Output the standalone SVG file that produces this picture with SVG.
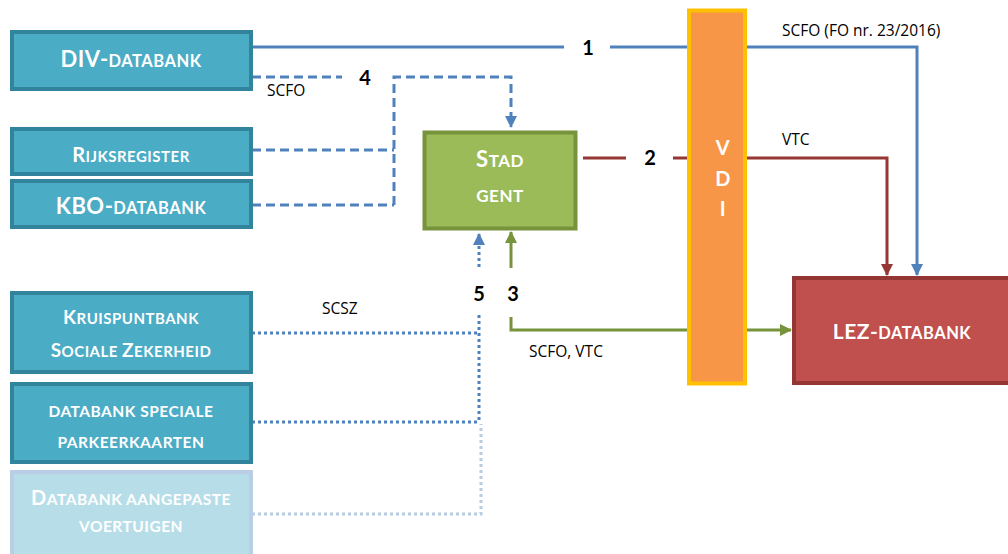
<svg xmlns="http://www.w3.org/2000/svg" width="1008" height="554" viewBox="0 0 1008 554">
<defs>
<style>
.src{fill:#4BACC6;stroke:#31849B;stroke-width:4}
.srcl{fill:#B7DEE8;stroke:#B9CDE5;stroke-width:4}
.bt{font-family:Lato,"Open Sans","Liberation Sans",sans-serif;font-weight:bold;fill:#FFFFFF;text-anchor:middle;letter-spacing:0.5px}
.lbl{font-family:"Open Sans","Liberation Sans",sans-serif;font-size:15.5px;fill:#000}
.num{font-family:Lato,"Liberation Sans",sans-serif;font-weight:bold;font-size:20px;fill:#000;text-anchor:middle}
.blue{stroke:#4F81BD;stroke-width:3;fill:none}
.dash{stroke-dasharray:9 5}
.dot{stroke-dasharray:3 3}
.lblue{stroke:#B8CCE4;stroke-width:3;fill:none;stroke-dasharray:3 3}
.red{stroke:#953735;stroke-width:3;fill:none}
.green{stroke:#77933C;stroke-width:3;fill:none}
</style>
<marker id="ab" viewBox="0 0 12 12" refX="11" refY="6" markerWidth="12" markerHeight="12" markerUnits="userSpaceOnUse" orient="auto"><path d="M0,0 L12,6 L0,12 z" fill="#4F81BD"/></marker>
<marker id="ar" viewBox="0 0 12 12" refX="11" refY="6" markerWidth="12" markerHeight="12" markerUnits="userSpaceOnUse" orient="auto"><path d="M0,0 L12,6 L0,12 z" fill="#953735"/></marker>
<marker id="ag" viewBox="0 0 12 12" refX="11" refY="6" markerWidth="12" markerHeight="12" markerUnits="userSpaceOnUse" orient="auto"><path d="M0,0 L12,6 L0,12 z" fill="#77933C"/></marker>
</defs>
<rect width="1008" height="554" fill="#FFFFFF"/>

<g id="connectors">
<path class="blue" d="M252,47 H564"/>
<path class="blue" d="M610,47 H917 V275" marker-end="url(#ab)"/>
<path class="blue dash" d="M252,77 H342"/>
<path class="blue dash" d="M394,205 V77 H511 V127" marker-end="url(#ab)"/>
<path class="blue dash" d="M252,150 H394"/>
<path class="blue dash" d="M252,205 H394"/>
<path class="red" d="M583,158 H626"/>
<path class="red" d="M673,158 H887 V275" marker-end="url(#ar)"/>
<path class="green" d="M511,268 V232" marker-end="url(#ag)"/>
<path class="green" d="M511,317 V330 H791" marker-end="url(#ag)"/>
<path class="blue dot" d="M479,267 V234" marker-end="url(#ab)"/>
<path class="blue dot" d="M252,333 H479 M479,315 V422 M252,422 H479"/>
<path class="lblue" d="M252,514 H481 V424"/>
</g>

<g id="labels">
<text class="num" x="588" y="55">1</text>
<text class="num" x="650" y="165">2</text>
<text class="num" x="513" y="301">3</text>
<text class="num" x="365" y="85">4</text>
<text class="num" x="479" y="301">5</text>
<text class="lbl" x="267" y="96">SCFO</text>
<text class="lbl" x="782" y="36">SCFO (FO nr. 23/2016)</text>
<text class="lbl" x="782" y="145">VTC</text>
<text class="lbl" x="322" y="314">SCSZ</text>
<text class="lbl" x="529" y="357">SCFO, VTC</text>
</g>

<g id="div">
<rect class="src" x="12" y="32" width="239" height="57"/>
<text class="bt" x="131" y="67"><tspan font-size="22">DIV-</tspan><tspan font-size="16.5">DATABANK</tspan></text>
</g>
<g id="rijksregister">
<rect class="src" x="12" y="129" width="239" height="45"/>
<text class="bt" x="131" y="162"><tspan font-size="20">R</tspan><tspan font-size="15">IJKSREGISTER</tspan></text>
</g>
<g id="kbo">
<rect class="src" x="12" y="181" width="239" height="46"/>
<text class="bt" x="131" y="214"><tspan font-size="22">KBO-</tspan><tspan font-size="16.5">DATABANK</tspan></text>
</g>
<g id="kruispuntbank">
<rect class="src" x="12" y="293" width="239" height="79"/>
<text class="bt" x="131" y="324"><tspan font-size="19">K</tspan><tspan font-size="15">RUISPUNTBANK</tspan></text>
<text class="bt" x="131" y="357"><tspan font-size="19">S</tspan><tspan font-size="15">OCIALE </tspan><tspan font-size="19">Z</tspan><tspan font-size="15">EKERHEID</tspan></text>
</g>
<g id="parkeerkaarten">
<rect class="src" x="12" y="384" width="239" height="78"/>
<text class="bt" x="131" y="417" font-size="15.5">DATABANK SPECIALE</text>
<text class="bt" x="131" y="448" font-size="15.5">PARKEERKAARTEN</text>
</g>
<g id="aangepaste">
<rect class="srcl" x="12" y="472" width="239" height="84"/>
<text class="bt" x="131" y="505"><tspan font-size="20">D</tspan><tspan font-size="15.5">ATABANK AANGEPASTE</tspan></text>
<text class="bt" x="131" y="532" font-size="15.5">VOERTUIGEN</text>
</g>

<g id="stadgent">
<rect x="424.5" y="132.5" width="151" height="96" fill="#9BBB59" stroke="#77933C" stroke-width="4"/>
<text class="bt" x="500" y="167"><tspan font-size="22">S</tspan><tspan font-size="17">TAD</tspan></text>
<text class="bt" x="500" y="202" font-size="17">GENT</text>
</g>

<g id="vdi">
<rect x="689" y="10.5" width="56" height="373" fill="#F79646" stroke="#FFC000" stroke-width="4"/>
<text class="bt" x="723" y="155" font-size="20">V</text>
<text class="bt" x="723" y="186" font-size="20">D</text>
<text class="bt" x="723" y="216" font-size="20">I</text>
</g>

<g id="lez">
<rect x="794" y="278" width="216" height="105" fill="#C0504D" stroke="#943634" stroke-width="4"/>
<text class="bt" x="902" y="339"><tspan font-size="21">LEZ-</tspan><tspan font-size="16.5">DATABANK</tspan></text>
</g>
</svg>
